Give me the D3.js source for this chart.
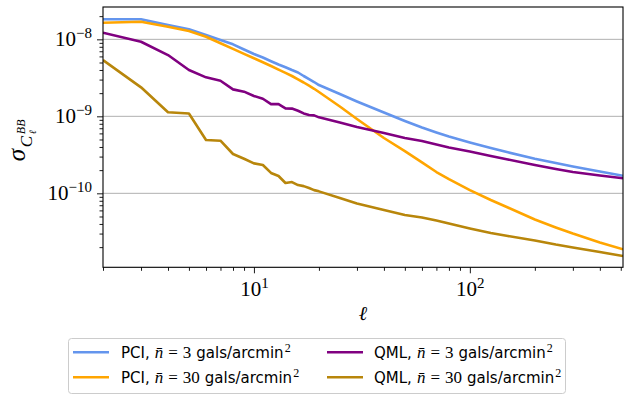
<!DOCTYPE html>
<html>
<head>
<meta charset="utf-8">
<script src="https://cdn.jsdelivr.net/npm/d3@7"></script>
<style>
  body { margin: 0; background: #fff; }
  svg { display: block; }
</style>
</head>
<body>
<svg id="chart" width="625" height="395"></svg>
<script>
// multipoles
var ells = [2, 3, 4, 5, 6, 7, 8, 9, 10, 11, 12, 13, 14, 15, 16, 17, 18, 19, 20,
            25, 30, 40, 50, 60, 70, 80, 100, 125, 150, 200, 250, 300, 400, 512];

// sigma(C_l^BB) per curve
var pci3 = [1.82e-8, 1.82e-8, 1.53e-8, 1.35e-8, 1.14e-8, 9.79e-9, 8.61e-9, 7.39e-9, 6.44e-9, 5.80e-9,
            5.20e-9, 4.71e-9, 4.34e-9, 3.99e-9, 3.71e-9, 3.34e-9, 3.05e-9, 2.79e-9, 2.55e-9,
            1.95e-9, 1.56e-9, 1.12e-9, 8.69e-10, 7.15e-10, 6.16e-10, 5.46e-10, 4.57e-10,
            3.88e-10, 3.41e-10, 2.81e-10, 2.47e-10, 2.23e-10, 1.92e-10, 1.69e-10];
var pci30 = [1.64e-8, 1.69e-8, 1.46e-8, 1.28e-8, 1.08e-8, 8.90e-9, 7.53e-9, 6.48e-9, 5.68e-9, 5.04e-9,
             4.50e-9, 4.05e-9, 3.67e-9, 3.34e-9, 3.02e-9, 2.75e-9, 2.50e-9, 2.28e-9, 2.07e-9,
             1.34e-9, 9.22e-10, 5.23e-10, 3.54e-10, 2.52e-10, 1.89e-10, 1.53e-10, 1.10e-10,
             8.18e-11, 6.54e-11, 4.57e-11, 3.60e-11, 3.00e-11, 2.30e-11, 1.87e-11];
var qml3 = [1.22e-8, 9.31e-9, 6.25e-9, 3.99e-9, 3.21e-9, 2.90e-9, 2.24e-9, 2.09e-9, 1.84e-9, 1.69e-9,
            1.44e-9, 1.44e-9, 1.27e-9, 1.26e-9, 1.18e-9, 1.09e-9, 1.04e-9, 1.03e-9, 9.70e-10,
            8.31e-10, 7.26e-10, 6.07e-10, 5.23e-10, 4.78e-10, 4.30e-10, 3.93e-10, 3.49e-10,
            3.05e-10, 2.75e-10, 2.33e-10, 2.07e-10, 1.89e-10, 1.70e-10, 1.57e-10];
var qml30 = [5.38e-9, 2.38e-9, 1.13e-9, 1.09e-9, 4.92e-10, 4.82e-10, 3.24e-10, 2.81e-10, 2.45e-10, 2.33e-10,
             1.84e-10, 1.68e-10, 1.36e-10, 1.40e-10, 1.28e-10, 1.24e-10, 1.17e-10, 1.10e-10, 1.06e-10,
             8.69e-11, 7.37e-11, 6.07e-11, 5.23e-11, 4.85e-11, 4.43e-11, 4.05e-11, 3.49e-11,
             3.05e-11, 2.79e-11, 2.44e-11, 2.16e-11, 1.98e-11, 1.73e-11, 1.53e-11];

var methods = ["PCI", "PCI", "QML", "QML"];
var densities = [3, 30, 3, 30];
var yMajor = [1e-8, 1e-9, 1e-10];
var xMajor = [10, 100];

var colors = ["#6495ed", "#ffa500", "#800080", "#b8860b"];
var serif = "'Liberation Serif', 'DejaVu Serif', serif";
var sans = "'DejaVu Sans', 'Liberation Sans', sans-serif";

var box = {left: 103, right: 623, top: 7, bottom: 267.3};

var x = d3.scaleLog().domain([2, 512]).range([box.left, box.right]);
var y = d3.scaleLog().domain([1.094e-11, 2.63e-8]).range([box.bottom, box.top]);

var svg = d3.select("#chart");

svg.append("defs").append("clipPath").attr("id", "plot")
  .append("rect")
  .attr("x", box.left).attr("y", box.top)
  .attr("width", box.right - box.left).attr("height", box.bottom - box.top);

// grid
svg.append("g").selectAll("line").data(yMajor).enter()
  .append("line")
  .attr("x1", box.left).attr("x2", box.right)
  .attr("y1", function(d) { return y(d); })
  .attr("y2", function(d) { return y(d); })
  .attr("stroke", "#b0b0b0")
  .attr("stroke-width", 1);

// curves
var series = [pci3, pci30, qml3, qml30];
var line = d3.line()
  .x(function(d) { return x(d[0]); })
  .y(function(d) { return y(d[1]); });

svg.append("g").attr("clip-path", "url(#plot)")
  .selectAll("path").data(series).enter()
  .append("path")
  .attr("d", function(s) { return line(ells.map(function(l, i) { return [l, s[i]]; })); })
  .attr("fill", "none")
  .attr("stroke", function(s, i) { return colors[i]; })
  .attr("stroke-width", 2.6)
  .attr("stroke-linejoin", "round");

// ticks
function isPow(d) { return Math.abs(Math.log10(d) - Math.round(Math.log10(d))) < 1e-6; }
var xMinor = x.ticks().filter(function(d) { return !isPow(d); });
var yMinor = y.ticks().filter(function(d) { return !isPow(d); });

function clean(g) { g.select(".domain").remove(); g.selectAll("line").attr("stroke", "#000").attr("stroke-width", 0.9); }

svg.append("g").attr("transform", "translate(0," + box.bottom + ")")
  .call(d3.axisBottom(x).tickValues(xMinor).tickSize(3.5).tickFormat("")).call(clean);
svg.append("g").attr("transform", "translate(0," + box.bottom + ")")
  .call(d3.axisBottom(x).tickValues(xMajor).tickSize(6).tickFormat("")).call(clean);
svg.append("g").attr("transform", "translate(" + box.left + ",0)")
  .call(d3.axisLeft(y).tickValues(yMinor).tickSize(3.5).tickFormat("")).call(clean);
svg.append("g").attr("transform", "translate(" + box.left + ",0)")
  .call(d3.axisLeft(y).tickValues(yMajor).tickSize(6).tickFormat("")).call(clean);

// frame
svg.append("rect")
  .attr("x", box.left).attr("y", box.top)
  .attr("width", box.right - box.left).attr("height", box.bottom - box.top)
  .attr("fill", "none").attr("stroke", "#000").attr("stroke-width", 1.1);

// tick labels
function expLabel(sel, d) {
  var e = Math.round(Math.log10(d));
  sel.append("tspan").attr("font-size", 21).text("10");
  sel.append("tspan").attr("font-size", 15).attr("dy", -8)
    .text(e < 0 ? "\u2212" + (-e) : e);
}

svg.append("g").selectAll("text").data(yMajor).enter()
  .append("text")
  .attr("x", 92)
  .attr("y", function(d) { return y(d) + 7; })
  .attr("text-anchor", "end")
  .attr("font-family", serif)
  .each(function(d) { expLabel(d3.select(this), d); });

svg.append("g").selectAll("text").data(xMajor).enter()
  .append("text")
  .attr("x", function(d) { return x(d) + 0.5; })
  .attr("y", 296)
  .attr("text-anchor", "middle")
  .attr("font-family", serif)
  .each(function(d) { expLabel(d3.select(this), d); });

// axis labels
svg.append("text")
  .attr("x", (box.left + box.right) / 2)
  .attr("y", 320)
  .attr("text-anchor", "middle")
  .attr("font-family", "'DejaVu Serif', serif")
  .attr("font-style", "italic")
  .attr("font-size", 20)
  .text("\u2113");

var yl = svg.append("g")
  .attr("transform", "translate(25," + ((box.top + box.bottom) / 2) + ") rotate(-90)")
  .attr("font-family", serif)
  .attr("font-style", "italic");
yl.append("text").attr("x", -24).attr("y", 0).attr("font-size", 25).text("\u03c3");
yl.append("text").attr("x", -10).attr("y", 7).attr("font-size", 17).text("C");
yl.append("text").attr("x", 3).attr("y", 0).attr("font-size", 12).text("BB");
yl.append("text").attr("x", 3).attr("y", 11).attr("font-family", "'DejaVu Serif', serif").attr("font-size", 10).text("\u2113");

// legend
var legend = svg.append("g");
legend.append("rect")
  .attr("x", 68.5).attr("y", 338.5)
  .attr("width", 497).attr("height", 55)
  .attr("rx", 3)
  .attr("fill", "#fff")
  .attr("stroke", "#cccccc");

var items = legend.selectAll("g.item").data(methods).enter()
  .append("g").attr("class", "item")
  .attr("transform", function(d, i) {
    return "translate(" + (i < 2 ? 73 : 327) + "," + (i % 2 === 0 ? 352.3 : 377.3) + ")";
  });

items.append("line")
  .attr("x1", 0).attr("x2", 36)
  .attr("stroke", function(d, i) { return colors[i]; })
  .attr("stroke-width", 2.6);

items.each(function(d, i) {
  var t = d3.select(this).append("text")
    .attr("x", i < 2 ? 48 : 47).attr("y", 5.5)
    .attr("font-size", 15);
  t.append("tspan").attr("font-family", sans).text(d + ",");
  t.append("tspan").attr("font-family", serif).attr("font-style", "italic")
    .attr("font-size", 17).attr("dx", 5).text("n\u0304");
  t.append("tspan").attr("font-family", serif).attr("font-size", 17).attr("dx", 5).text("=");
  t.append("tspan").attr("font-family", serif).attr("font-size", 17).attr("dx", 5).text(densities[i]);
  t.append("tspan").attr("font-family", sans).attr("dx", 5).text("gals/arcmin");
  t.append("tspan").attr("font-family", serif).attr("font-size", 12).attr("dx", 1).attr("dy", -6).text("2");
});
</script>
</body>
</html>
